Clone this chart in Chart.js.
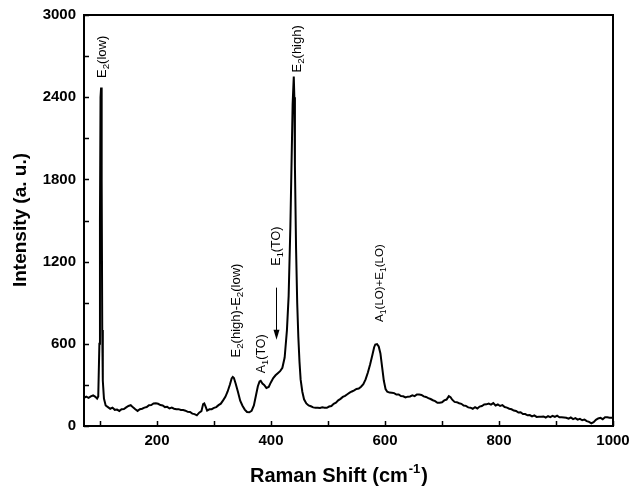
<!DOCTYPE html>
<html>
<head>
<meta charset="utf-8">
<style>
html,body{margin:0;padding:0;background:#fff;}
canvas{display:block;}
</style>
<script src="https://cdn.jsdelivr.net/npm/chart.js@4.4.0/dist/chart.umd.min.js"></script>
</head>
<body>
<canvas id="c" width="632" height="486"></canvas>
<script>
// Raman shift (cm^-1)
const ramanShift = [72,76,80,84,88,92,95,97,99,100,101,102,103,104,105,107,110,114,118,122,126,130,134,138,142,146,150,154,158,162,166,170,174,178,182,186,190,194,198,202,206,210,214,218,222,226,230,234,238,242,246,250,254,258,262,266,270,274,278,281,283,285,288,292,296,300,304,308,312,316,320,324,328,331,333,335,338,342,346,350,354,358,362,366,370,374,377,380,382,385,388,392,396,400,404,408,412,416,420,424,428,431,434,436,438,440,441,442,444,446,448,450,452,455,458,462,466,470,474,478,482,486,490,494,498,502,506,510,514,518,522,526,530,534,538,542,546,550,554,558,562,566,570,574,578,581,583,586,589,592,595,598,601,604,608,612,616,620,624,628,632,636,640,644,648,652,656,660,664,668,672,676,680,684,688,692,696,700,704,708,712,715,718,722,726,730,734,738,742,746,750,754,758,762,766,770,774,778,782,786,790,794,798,802,806,810,814,818,822,826,830,834,838,842,846,850,854,858,862,866,870,874,878,882,886,890,894,898,902,906,910,914,918,922,926,930,934,938,942,946,950,954,958,962,966,970,974,978,982,986,990,994,998,1000];
// Intensity (a. u.)
const intensity = [205,214,206,216,224,213,200,215,600,1500,2400,2470,1800,700,330,200,150,138,126,134,118,120,110,122,124,136,146,152,136,122,110,122,126,134,138,152,153,164,166,162,153,150,138,140,128,134,126,122,123,117,116,112,103,102,90,87,78,97,108,160,165,145,113,122,123,132,138,152,163,187,213,252,303,347,358,350,310,250,185,148,120,102,100,110,150,230,290,325,330,310,300,278,285,320,350,370,385,400,425,500,700,950,1450,1900,2350,2550,2400,1900,1300,900,650,470,340,250,195,165,150,144,136,134,133,132,136,134,133,142,146,162,170,187,198,212,220,232,243,252,260,270,273,287,305,340,390,450,520,575,595,598,580,530,430,330,270,250,244,243,240,230,230,218,217,208,214,216,224,218,230,230,227,216,212,203,197,188,182,170,170,173,187,193,218,210,192,176,174,166,162,150,147,136,134,126,137,128,142,146,157,158,164,156,167,150,157,146,152,138,134,126,122,113,110,98,100,88,87,78,80,70,77,66,67,68,70,62,72,64,74,66,76,64,64,62,60,53,62,50,57,46,52,42,47,36,30,20,28,45,55,60,50,64,64,60,60,62];
const xTicks = [100,200,300,400,500,600,700,800,900,1000];
const xLabelTicks = [200,400,600,800,1000];
const yTicks = [0,300,600,900,1200,1500,1800,2100,2400,2700,3000];
const yLabelTicks = [0,600,1200,1800,2400,3000];
// peak annotations: label parts ([text, isSubscript]), x value, y value where text starts
const annotations = [
  {parts:[["E",0],["2",1],["(low)",0]], x:104, y:2540, size:13},
  {parts:[["E",0],["2",1],["(high)",0]], x:446, y:2580, size:13},
  {parts:[["E",0],["2",1],["(high)-E",0],["2",1],["(low)",0]], x:339, y:500, size:13},
  {parts:[["A",0],["1",1],["(TO)",0]], x:383, y:385, size:12.5},
  {parts:[["E",0],["1",1],["(TO)",0]], x:409, y:1170, size:12.5},
  {parts:[["A",0],["1",1],["(LO)+E",0],["1",1],["(LO)",0]], x:590, y:760, size:11.5}
];
const arrowE1 = {x:408, yFrom:1010, yTo:630};

const points = ramanShift.map((x,i)=>({x:x, y:intensity[i]}));

const FONT = '"Liberation Sans", Arial, sans-serif';

const decor = {
  id:'decor',
  afterDraw(chart){
    const ctx = chart.ctx, a = chart.chartArea;
    const xs = chart.scales.x, ys = chart.scales.y;
    ctx.save();
    // box
    ctx.strokeStyle = '#000';
    ctx.lineWidth = 2;
    ctx.strokeRect(a.left, a.top, a.right - a.left, a.bottom - a.top);
    // inward ticks
    ctx.lineWidth = 1.5;
    ctx.beginPath();
    xTicks.forEach(v=>{
      const px = Math.round(xs.getPixelForValue(v)) + 0.5;
      ctx.moveTo(px, a.bottom); ctx.lineTo(px, a.bottom - 5);
    });
    yTicks.forEach(v=>{
      const py = Math.round(ys.getPixelForValue(v)) + 0.5;
      ctx.moveTo(a.left, py); ctx.lineTo(a.left + 5, py);
    });
    ctx.stroke();
    // axis titles
    ctx.fillStyle = '#000';
    ctx.font = 'bold 20px ' + FONT;
    ctx.textBaseline = 'alphabetic';
    const t1 = 'Raman Shift (cm', sup = '-1', t2 = ')';
    const w1 = ctx.measureText(t1).width;
    ctx.font = 'bold 13px ' + FONT;
    const ws = ctx.measureText(sup).width;
    ctx.font = 'bold 20px ' + FONT;
    const w2 = ctx.measureText(t2).width;
    const total = w1 + ws + w2;
    let sx = 338 - total/2;
    const by = 482;
    ctx.textAlign = 'left';
    ctx.fillText(t1, sx, by);
    ctx.font = 'bold 13px ' + FONT;
    ctx.fillText(sup, sx + w1 + 1, by - 9);
    ctx.font = 'bold 20px ' + FONT;
    ctx.fillText(t2, sx + w1 + ws + 2, by);
    // y title
    ctx.save();
    ctx.font = 'bold 19px ' + FONT;
    ctx.translate(26, 220);
    ctx.rotate(-Math.PI/2);
    ctx.textAlign = 'center';
    ctx.fillText('Intensity (a. u.)', 0, 0);
    ctx.restore();
    // annotations (rotated)
    annotations.forEach(an=>{
      const px = xs.getPixelForValue(an.x), py = ys.getPixelForValue(an.y);
      ctx.save();
      ctx.translate(px + 4, py);
      ctx.rotate(-Math.PI/2);
      ctx.textAlign = 'left';
      ctx.textBaseline = 'alphabetic';
      let cx = 0;
      an.parts.forEach(p=>{
        if (p[1]) {
          ctx.font = (an.size * 0.75) + 'px ' + FONT;
          ctx.fillText(p[0], cx, 3);
        } else {
          ctx.font = an.size + 'px ' + FONT;
          ctx.fillText(p[0], cx, 0);
        }
        cx += ctx.measureText(p[0]).width;
      });
      ctx.restore();
    });
    // arrow
    const ax = Math.round(xs.getPixelForValue(arrowE1.x)) + 0.5;
    const ay1 = ys.getPixelForValue(arrowE1.yFrom), ay2 = ys.getPixelForValue(arrowE1.yTo);
    ctx.lineWidth = 1;
    ctx.beginPath();
    ctx.moveTo(ax, ay1); ctx.lineTo(ax, ay2 - 2);
    ctx.stroke();
    ctx.beginPath();
    ctx.moveTo(ax, ay2);
    ctx.lineTo(ax - 3, ay2 - 10);
    ctx.lineTo(ax + 3, ay2 - 10);
    ctx.closePath();
    ctx.fill();
    ctx.restore();
  }
};

new Chart(document.getElementById('c'), {
  type:'line',
  data:{datasets:[{data:points, borderColor:'#000', borderWidth:2, pointRadius:0, tension:0, fill:false}]},
  options:{
    responsive:false, animation:false,
    layout:{padding:{top:15, right:19, left:0, bottom:0}},
    plugins:{legend:{display:false}, tooltip:{enabled:false}},
    scales:{
      x:{type:'linear', min:72, max:1000,
        afterBuildTicks:s=>{ s.ticks = xLabelTicks.map(v=>({value:v})); },
        afterFit:s=>{ s.height = 60; s.paddingLeft = 0; s.paddingRight = 0; },
        ticks:{font:{family:FONT, size:15, weight:'bold'}, color:'#000', padding:6, maxRotation:0, autoSkip:false, callback:v=>String(v)},
        grid:{display:false, drawTicks:false, tickLength:0}, border:{display:false}},
      y:{type:'linear', min:0, max:3000,
        afterBuildTicks:s=>{ s.ticks = yLabelTicks.map(v=>({value:v})); },
        afterFit:s=>{ s.width = 84; s.paddingTop = 0; s.paddingBottom = 0; },
        ticks:{font:{family:FONT, size:15, weight:'bold'}, color:'#000', padding:8, autoSkip:false, callback:v=>String(v)},
        grid:{display:false, drawTicks:false, tickLength:0}, border:{display:false}}
    }
  },
  plugins:[decor]
});
</script>
</body>
</html>
